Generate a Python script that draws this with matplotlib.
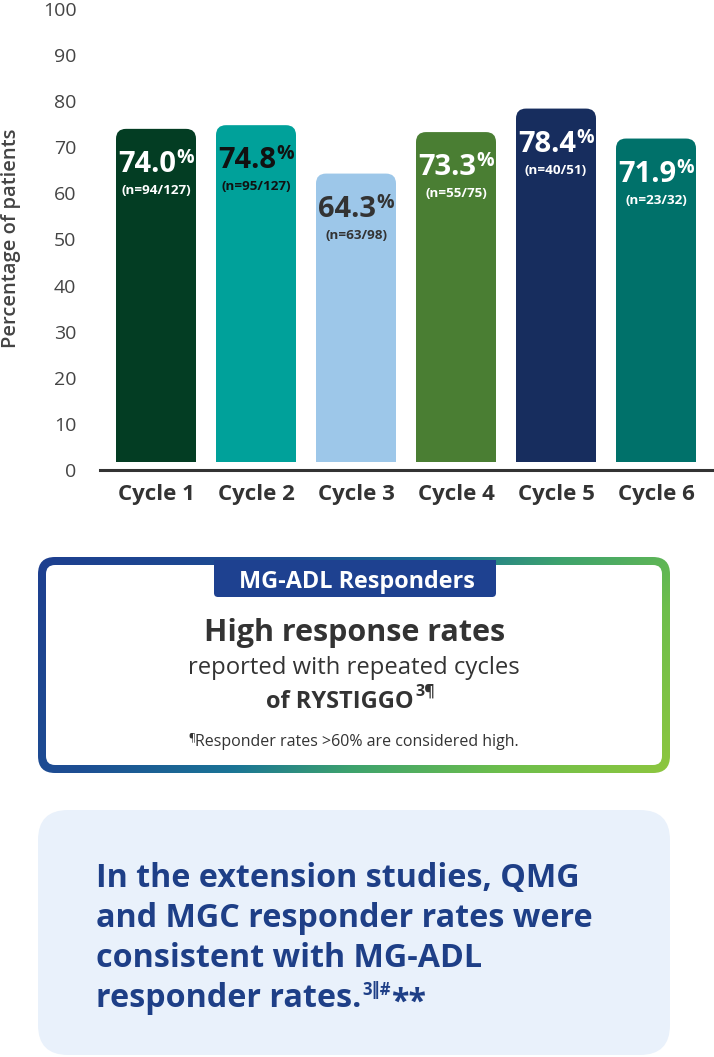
import matplotlib
matplotlib.use("Agg")
import matplotlib.pyplot as plt
import numpy as np
from matplotlib.patches import FancyBboxPatch, Rectangle
from matplotlib.colors import LinearSegmentedColormap

plt.rcParams['font.family'] = ['Open Sans', 'DejaVu Sans']

# ---------------- data ----------------
cycles = ["Cycle 1", "Cycle 2", "Cycle 3", "Cycle 4", "Cycle 5", "Cycle 6"]
rates = [74.0, 74.8, 64.3, 73.3, 78.4, 71.9]
rate_labels = ["74.0", "74.8", "64.3", "73.3", "78.4", "71.9"]
n_labels = ["(n=94/127)", "(n=95/127)", "(n=63/98)", "(n=55/75)", "(n=40/51)", "(n=23/32)"]
bar_colors = ["#033D23", "#00A19A", "#9DC7E9", "#4A7E33", "#172D5E", "#00716A"]
text_colors = ["#FFFFFF", "#111111", "#333333", "#FFFFFF", "#FFFFFF", "#FFFFFF"]
yticks = [0, 10, 20, 30, 40, 50, 60, 70, 80, 90, 100]

W, H = 714, 1057
fig = plt.figure(figsize=(W / 100, H / 100), dpi=100)

# background axes in pixel coordinates for the info boxes
bg = fig.add_axes([0, 0, 1, 1], zorder=0)
bg.set_xlim(0, W)
bg.set_ylim(H, 0)
bg.axis("off")

# ---------------- chart ----------------
ax_left, ax_right = 100, 714
y0_px, y100_px = 470, 9
ax = fig.add_axes([ax_left / W, (H - y0_px) / H, (ax_right - ax_left) / W, (y0_px - y100_px) / H], zorder=1)
ax.set_xlim((ax_left - 156) / 100, (ax_right - 156) / 100)
ax.set_ylim(0, 100)
ax.patch.set_alpha(0)

x = np.arange(len(cycles))
bar_w = 0.8
base = 1.8
px_per_x = 100.0
px_per_y = (y0_px - y100_px) / 100.0
r_px = 10
r_x = r_px / px_per_x
aspect = px_per_x / px_per_y
pt = 72 / 100  # points per pixel

for i, (xi, v, c) in enumerate(zip(x, rates, bar_colors)):
    p = FancyBboxPatch((xi - bar_w / 2, base), bar_w, v - base,
                       boxstyle=f"round,pad=0,rounding_size={r_x}",
                       mutation_aspect=aspect, facecolor=c, edgecolor="none", zorder=2)
    ax.add_patch(p)
    ax.add_patch(Rectangle((xi - bar_w / 2, base), bar_w, (v - base) / 2,
                           facecolor=c, edgecolor="none", zorder=2))
    t = ax.annotate(rate_labels[i], xy=(xi, v), xytext=(-9 * pt, -43 * pt),
                    textcoords="offset points", ha="center", va="baseline",
                    fontsize=21, fontweight="bold", color=text_colors[i], zorder=3)
    ax.annotate("%", xy=(1, v), xycoords=(t, "data"), xytext=(0, -34 * pt),
                textcoords="offset points", ha="left", va="baseline",
                fontsize=14, fontweight="bold", color=text_colors[i], zorder=3)
    ax.annotate(n_labels[i], xy=(xi, v), xytext=(0, -65 * pt),
                textcoords="offset points", ha="center", va="baseline",
                fontsize=9.7, fontweight="bold", color=text_colors[i], zorder=3)

ax.set_xticks(x)
ax.set_xticklabels(cycles, fontsize=16, fontweight="bold", color="#333333")
ax.set_yticks(yticks)
ax.set_yticklabels([str(v) for v in yticks], fontsize=14, color="#444444")
ax.tick_params(axis="both", length=0)
ax.tick_params(axis="y", pad=17)
ax.tick_params(axis="x", pad=10)
for s in ["left", "right", "top"]:
    ax.spines[s].set_visible(False)
ax.spines["bottom"].set_color("#333333")
ax.spines["bottom"].set_linewidth(2.2)
ax.set_ylabel("Percentage of patients", fontsize=14.5, fontweight="semibold", color="#444444")
ax.yaxis.set_label_coords((11 - ax_left) / (ax_right - ax_left), (y0_px - 238) / (y0_px - y100_px))
ax.yaxis.label.set_va("center")

# ---------------- box 1 with gradient border ----------------
bx0, bx1, by0, by1 = 38, 670, 557, 773
outer = FancyBboxPatch((bx0, by0), bx1 - bx0, by1 - by0,
                       boxstyle="round,pad=0,rounding_size=17",
                       facecolor="none", edgecolor="none", zorder=1)
bg.add_patch(outer)
gx = np.linspace(bx0, bx1, 400)
gy = np.linspace(by0, by1, 150)
GX, GY = np.meshgrid(gx, gy)
T = ((GX - bx0) + (GY - by0) * 1.0) / ((bx1 - bx0) + (by1 - by0))
cmap = LinearSegmentedColormap.from_list(
    "brd", [(0.0, "#1D3F8F"), (0.3, "#1D4E93"), (0.48, "#1A7496"),
            (0.62, "#3DA26E"), (0.8, "#6DBE4C"), (1.0, "#8DC63F")])
im = bg.imshow(T, extent=(bx0, bx1, by1, by0), cmap=cmap, vmin=0, vmax=1,
               aspect="auto", zorder=1, interpolation="bilinear")
im.set_clip_path(outer)
bw = 8
inner = FancyBboxPatch((bx0 + bw, by0 + bw), bx1 - bx0 - 2 * bw, by1 - by0 - 2 * bw,
                       boxstyle="round,pad=0,rounding_size=9",
                       facecolor="white", edgecolor="none", zorder=2)
bg.add_patch(inner)

# tab
tab = FancyBboxPatch((214, 560), 282, 37, boxstyle="round,pad=0,rounding_size=4",
                     facecolor="#1E4190", edgecolor="none", zorder=3)
bg.add_patch(tab)
bg.add_patch(Rectangle((214, 560), 282, 10, facecolor="#1E4190", edgecolor="none", zorder=3))
bg.text(357, 588, "MG-ADL Responders", ha="center", va="baseline", fontsize=16.8,
        fontweight="bold", color="white", zorder=4)

bg.text(355, 641, "High response rates", ha="center", va="baseline", fontsize=22,
        fontweight="bold", color="#333333", zorder=4)
bg.text(354, 674, "reported with repeated cycles", ha="center", va="baseline", fontsize=17.2,
        color="#333333", zorder=4)
t_of = bg.text(340, 708, "of RYSTIGGO", ha="center", va="baseline", fontsize=17,
               fontweight="bold", color="#333333", zorder=4)
bg.annotate("3¶", xy=(1, 696), xycoords=(t_of, "data"), xytext=(1, 0),
            textcoords="offset points", ha="left", va="baseline", fontsize=11.5,
            fontweight="bold", color="#333333", zorder=4)
t_fn = bg.text(357, 746, "Responder rates >60% are considered high.", ha="center",
               va="baseline", fontsize=11.5, color="#333333", zorder=4)
bg.annotate("¶", xy=(0, 740), xycoords=(t_fn, "data"), xytext=(0, 0),
            textcoords="offset points", ha="right", va="baseline", fontsize=7.5,
            color="#333333", zorder=4)

# ---------------- box 2 ----------------
box2 = FancyBboxPatch((38, 810), 632, 245, boxstyle="round,pad=0,rounding_size=30",
                      facecolor="#E9F1FB", edgecolor="none", zorder=1)
bg.add_patch(box2)
lines = ["In the extension studies, QMG",
         "and MGC responder rates were",
         "consistent with MG-ADL",
         "responder rates."]
baselines = [887, 927, 967, 1007]
last = None
for ln, yb in zip(lines, baselines):
    last = bg.text(96, yb, ln, ha="left", va="baseline", fontsize=23.2,
                   fontweight="bold", color="#1E3F87", zorder=2)
s1 = bg.annotate("3\u2016#", xy=(1, 995), xycoords=(last, "data"), xytext=(1, 0),
                 textcoords="offset points", ha="left", va="baseline", fontsize=12,
                 fontweight="bold", color="#1E3F87", zorder=2,
                 family=["Open Sans", "DejaVu Sans"])
bg.annotate("**", xy=(1, 1012), xycoords=(s1, "data"), xytext=(0, 0),
            textcoords="offset points", ha="left", va="baseline", fontsize=23,
            fontweight="bold", color="#1E3F87", zorder=2)

fig.savefig("out.png", dpi=100)
